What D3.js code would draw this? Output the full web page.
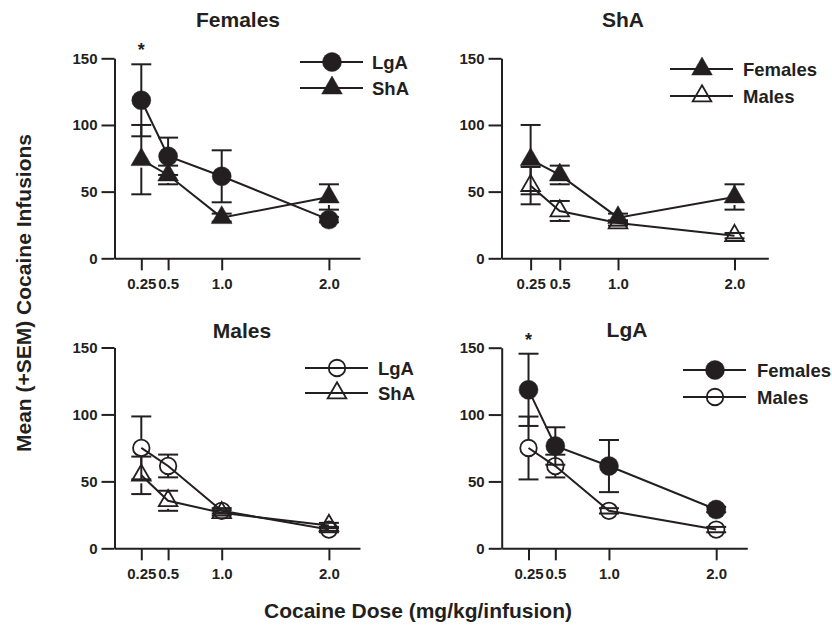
<!DOCTYPE html>
<html>
<head>
<meta charset="utf-8">
<script src="https://cdnjs.cloudflare.com/ajax/libs/d3/7.8.5/d3.min.js"></script>
<style>
  body { margin:0; background:#fff; }
  text { font-family: "Liberation Sans", Arial, sans-serif; font-weight:bold; fill:#231f20; }
  .axis path, .axis line { stroke:#231f20; stroke-width:2; }
  .axis text { font-size:15px; }
  .axis--x text { font-family:"Liberation Sans Narrow", "Arial Narrow", sans-serif; font-size:15px; }
</style>
</head>
<body>
<div id="chart"></div>
<script>
// cocaine doses (mg/kg/infusion)
var doses = [0.25, 0.5, 1.0, 2.0];
var doseLabels = ["0.25", "0.5", "1.0", "2.0"];
var yTicks = [0, 50, 100, 150];

// mean infusions and SEM
var lgaFemales    = [118.5, 76.5, 61.5, 29];
var lgaFemalesSem = [27, 14, 19.5, 2];
var shaFemales    = [74, 62.5, 30.5, 46];
var shaFemalesSem = [26, 7, 3, 9.5];
var lgaMales      = [75, 61.5, 28, 14];
var lgaMalesSem   = [23.5, 8.5, 2, 2];
var shaMales      = [54.5, 35.5, 26.5, 17];
var shaMalesSem   = [14, 7.5, 2, 2];

var sigDoses = [0.25]; // asterisk

var ink = "#231f20";

var svg = d3.select("#chart").append("svg")
    .attr("width", 832).attr("height", 630);

var panels = [
  {title:"Females", x0:114.5, x1:360, yTop:58.3, yBot:258.3, tx:238, ty:27, star:true,
   lx:300, ly:[62,88], tlx:372,
   series:[{name:"LgA", v:lgaFemales, e:lgaFemalesSem, shape:"circle", filled:true},
           {name:"ShA", v:shaFemales, e:shaFemalesSem, shape:"triangle", filled:true}]},
  {title:"ShA", x0:501.5, x1:768.3, yTop:58.3, yBot:258.3, tx:623, ty:27, star:false,
   lx:670, ly:[69,96], tlx:743,
   series:[{name:"Females", v:shaFemales, e:shaFemalesSem, shape:"triangle", filled:true},
           {name:"Males", v:shaMales, e:shaMalesSem, shape:"triangle", filled:false}]},
  {title:"Males", x0:114.5, x1:360, yTop:347.5, yBot:548.3, tx:242, ty:338, star:false,
   lx:305, ly:[368,393], tlx:378,
   series:[{name:"LgA", v:lgaMales, e:lgaMalesSem, shape:"circle", filled:false},
           {name:"ShA", v:shaMales, e:shaMalesSem, shape:"triangle", filled:false}]},
  {title:"LgA", x0:501.7, x1:747.3, yTop:347.7, yBot:548.3, tx:627, ty:337, star:true,
   lx:683, ly:[370,397], tlx:757,
   series:[{name:"Females", v:lgaFemales, e:lgaFemalesSem, shape:"circle", filled:true},
           {name:"Males", v:lgaMales, e:lgaMalesSem, shape:"circle", filled:false}]}
];

function marker(sel, s) {
  var type = s.shape == "circle" ? d3.symbolCircle : d3.symbolTriangle;
  var size = s.shape == "circle" ? (s.filled ? 283 : 215) : (s.filled ? 185 : 150);
  sel.attr("d", d3.symbol().type(type).size(size))
    .attr("fill", s.filled ? ink : "none")
    .attr("stroke", ink)
    .attr("stroke-width", s.filled ? 0.5 : 1.8);
}

panels.forEach(function(p) {
  var x = d3.scaleLinear().domain([0, 2.29]).range([p.x0, p.x1]);
  var y = d3.scaleLinear().domain([0, 150]).range([p.yBot, p.yTop]);
  var g = svg.append("g");

  g.append("g")
    .attr("class", "axis axis--y")
    .attr("transform", "translate(" + p.x0 + ",0)")
    .call(d3.axisLeft(y).tickValues(yTicks).tickSize(13).tickSizeOuter(0).tickPadding(4));

  g.append("g")
    .attr("class", "axis axis--x")
    .attr("transform", "translate(0," + p.yBot + ")")
    .call(d3.axisBottom(x).tickValues(doses).tickFormat(function(d, i) { return doseLabels[i]; })
      .tickSize(12).tickSizeOuter(0).tickPadding(8));

  g.selectAll(".domain").attr("stroke", ink);
  g.selectAll(".tick line").attr("stroke", ink);

  g.append("text")
    .attr("x", p.tx).attr("y", p.ty)
    .attr("text-anchor", "middle").attr("font-size", "21px")
    .text(p.title);

  if (p.star) {
    g.selectAll(".star").data(sigDoses).enter().append("text")
      .attr("x", function(d) { return x(d); })
      .attr("y", y(150) - 2)
      .attr("text-anchor", "middle").attr("font-size", "18px").attr("font-weight", "normal")
      .text("*");
  }

  var line = d3.line()
    .x(function(d, i) { return x(doses[i]); })
    .y(function(d) { return y(d); });

  // error bars start at the marker edge, like the original software
  p.series.forEach(function(s) {
    var eb = g.append("g");
    var gap = s.shape == "circle" ? 9 : 8;
    doses.forEach(function(d, i) {
      var cx = x(d), cy = y(s.v[i]), lo = y(s.v[i] - s.e[i]), hi = y(s.v[i] + s.e[i]);
      if (hi < cy - gap)
        eb.append("line").attr("x1", cx).attr("x2", cx).attr("y1", cy - gap).attr("y2", hi)
          .attr("stroke", ink).attr("stroke-width", 2);
      if (lo > cy + gap)
        eb.append("line").attr("x1", cx).attr("x2", cx).attr("y1", cy + gap).attr("y2", lo)
          .attr("stroke", ink).attr("stroke-width", 2);
      [lo, hi].forEach(function(yy) {
        eb.append("line").attr("x1", cx - 10).attr("x2", cx + 10).attr("y1", yy).attr("y2", yy)
          .attr("stroke", ink).attr("stroke-width", 2);
      });
    });
  });

  p.series.forEach(function(s) {
    g.append("path").datum(s.v)
      .attr("d", line)
      .attr("fill", "none").attr("stroke", ink).attr("stroke-width", 2);
  });

  p.series.forEach(function(s) {
    g.selectAll(null).data(s.v).enter().append("path")
      .attr("transform", function(d, i) { return "translate(" + x(doses[i]) + "," + y(d) + ")"; })
      .call(marker, s);
  });

  // legend
  p.series.forEach(function(s, i) {
    var ly = p.ly[i];
    g.append("line").attr("x1", p.lx).attr("x2", p.lx + 63).attr("y1", ly).attr("y2", ly)
      .attr("stroke", ink).attr("stroke-width", 2);
    g.append("path").attr("transform", "translate(" + (p.lx + 32) + "," + ly + ")").call(marker, s);
    g.append("text").attr("x", p.tlx).attr("y", ly + 6.5)
      .attr("font-size", "18.5px").text(s.name);
  });
});

svg.append("text")
  .attr("transform", "translate(31,293) rotate(-90)")
  .attr("text-anchor", "middle").attr("font-size", "21px")
  .text("Mean (+SEM) Cocaine Infusions");

svg.append("text")
  .attr("x", 418).attr("y", 618)
  .attr("text-anchor", "middle").attr("font-size", "21px")
  .text("Cocaine Dose (mg/kg/infusion)");
</script>
</body>
</html>
